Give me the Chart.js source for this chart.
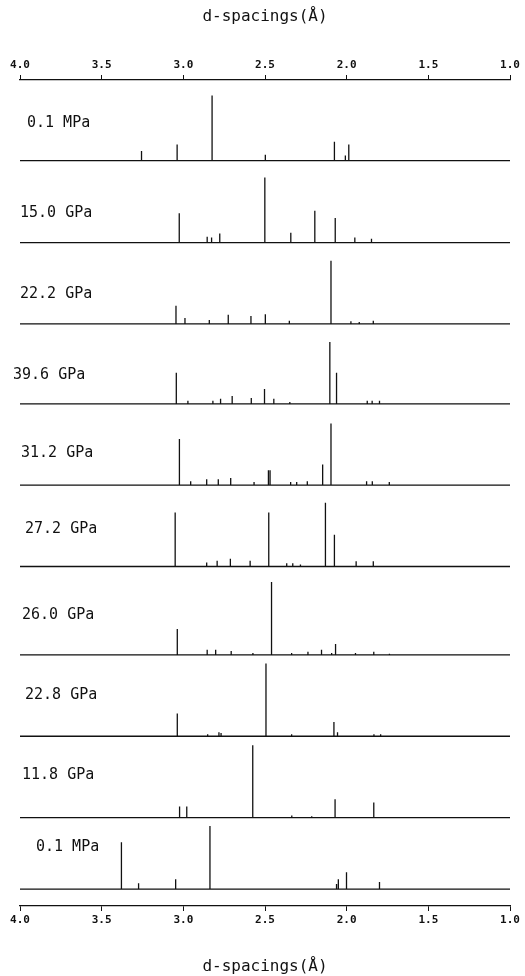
<!DOCTYPE html>
<html>
<head>
<meta charset="utf-8">
<script src="https://cdn.jsdelivr.net/npm/chart.js@4/dist/chart.umd.min.js"></script>
<style>
  html, body { margin: 0; padding: 0; background: #fff; }
  #wrap { width: 525px; height: 976px; }
</style>
</head>
<body>
<div id="wrap"><canvas id="xrd" width="525" height="976"></canvas></div>
<script>
// ── Data (d-spacing in Å, relative intensity) ──
const pressures = ['0.1 MPa', '15.0 GPa', '22.2 GPa', '39.6 GPa', '31.2 GPa',
                   '27.2 GPa', '26.0 GPa', '22.8 GPa', '11.8 GPa', '0.1 MPa'];
const xTicks = [4.0, 3.5, 3.0, 2.5, 2.0, 1.5, 1.0];

const d_01a = [3.256, 3.038, 2.824, 2.498, 2.075, 2.008, 1.987];
const I_01a = [15, 25, 100, 9, 29, 8, 25];
const d_150 = [3.025, 2.854, 2.827, 2.777, 2.501, 2.342, 2.195, 2.070, 1.950, 1.848];
const I_150 = [45, 9, 8, 14, 100, 15, 49, 38, 8, 6];
const d_222 = [3.045, 2.990, 2.841, 2.725, 2.586, 2.498, 2.351, 2.096, 1.974, 1.923, 1.837];
const I_222 = [28, 9, 6, 14, 12, 15, 5, 97, 4, 3, 5];
const d_396 = [3.043, 2.972, 2.819, 2.772, 2.701, 2.584, 2.503, 2.446, 2.348, 2.103, 2.062, 1.874, 1.844, 1.799];
const I_396 = [48, 5, 5, 8, 12, 9, 23, 8, 3, 95, 48, 5, 5, 5];
const d_312 = [3.024, 2.955, 2.857, 2.786, 2.710, 2.567, 2.479, 2.469, 2.343, 2.306, 2.241, 2.147, 2.096, 1.878, 1.843, 1.739];
const I_312 = [71, 6, 9, 9, 11, 5, 23, 23, 5, 5, 6, 32, 95, 6, 6, 5];
const d_272 = [3.050, 2.857, 2.793, 2.712, 2.591, 2.477, 2.367, 2.330, 2.283, 2.130, 2.075, 1.942, 1.837];
const I_272 = [83, 6, 9, 12, 9, 83, 5, 5, 3, 98, 49, 8, 8];
const d_260 = [3.037, 2.854, 2.802, 2.707, 2.574, 2.460, 2.337, 2.237, 2.154, 2.092, 2.068, 1.946, 1.834, 1.738];
const I_260 = [40, 8, 8, 6, 3, 112, 3, 5, 8, 3, 17, 3, 5, 2];
const d_228 = [3.037, 2.851, 2.782, 2.769, 2.494, 2.337, 2.078, 2.056, 1.833, 1.792];
const I_228 = [35, 3, 6, 5, 112, 3, 22, 6, 3, 3];
const d_118 = [3.023, 2.979, 2.575, 2.336, 2.214, 2.071, 1.834];
const I_118 = [17, 17, 111, 3, 2, 28, 23];
const d_01b = [3.379, 3.274, 3.047, 2.837, 2.062, 2.051, 2.001, 1.799];
const I_01b = [72, 9, 15, 97, 8, 15, 26, 11];

const peakD = [d_01a, d_150, d_222, d_396, d_312, d_272, d_260, d_228, d_118, d_01b];
const peakI = [I_01a, I_150, I_222, I_396, I_312, I_272, I_260, I_228, I_118, I_01b];

// ── Layout bits (per panel) ──
const yMin    = [-3, -4, -6, -10, -12, -14, -5, -7, -9, -26];
const ySpan   = 127;
const labelX  = [27, 20, 20, 13, 21, 25, 22, 25, 22, 36];
const labelUp = [38, 29, 30, 29, 32, 37, 40, 41, 42, 42];

// baseline from 4.0 to 1.0 with a stick at each peak
function stickLine(ds, is) {
  const pts = [{ x: 4.0, y: 0 }];
  ds.map((d, k) => ({ d, i: is[k] }))
    .sort((a, b) => b.d - a.d)
    .forEach(p => {
      pts.push({ x: p.d, y: 0 }, { x: p.d, y: p.i }, { x: p.d, y: 0 });
    });
  pts.push({ x: 1.0, y: 0 });
  return pts;
}

const datasets = peakD.map((ds, i) => ({
  label: pressures[i],
  data: stickLine(ds, peakI[i]),
  xAxisID: 'x',
  yAxisID: 'y' + i,
  borderColor: '#111',
  borderWidth: 1.3,
  pointRadius: 0,
  tension: 0,
  fill: false
}));

const tickFont  = { family: 'DejaVu Sans Mono', size: 11, weight: 'bold' };
const titleFont = { family: 'DejaVu Sans Mono', size: 16 };

function xAxis(position, titlePad) {
  return {
    type: 'linear',
    position,
    reverse: true,
    min: 1.0,
    max: 4.0,
    afterBuildTicks: (axis) => { axis.ticks = xTicks.map(v => ({ value: v })); },
    ticks: { color: '#111', font: tickFont, padding: 3, maxRotation: 0,
             callback: (v) => Number(v).toFixed(1) },
    grid: { drawOnChartArea: false, drawTicks: true, tickLength: 5, color: '#111' },
    border: { display: true, color: '#111', width: 1.3 },
    title: { display: true, text: 'd-spacings(Å)', color: '#111', font: titleFont, padding: titlePad }
  };
}

const scales = { x: xAxis('bottom', { top: 26.6, bottom: 0 }), x2: xAxis('top', { top: 0, bottom: 29.6 }) };
pressures.forEach((p, i) => {
  scales['y' + i] = {
    type: 'linear',
    position: 'left',
    stack: 'panels',
    stackWeight: 1,
    weight: 10 - i,
    min: yMin[i],
    max: yMin[i] + ySpan,
    display: false
  };
});

const panelLabels = {
  id: 'panelLabels',
  afterDatasetsDraw(chart) {
    const ctx = chart.ctx;
    ctx.save();
    ctx.fillStyle = '#111';
    ctx.font = '15px "DejaVu Sans Mono"';
    ctx.textBaseline = 'middle';
    ctx.textAlign = 'left';
    pressures.forEach((p, i) => {
      const y0 = chart.scales['y' + i].getPixelForValue(0);
      ctx.fillText(p, labelX[i], y0 - labelUp[i]);
    });
    ctx.restore();
  }
};

new Chart(document.getElementById('xrd'), {
  type: 'line',
  data: { datasets },
  options: {
    responsive: false,
    animation: false,
    layout: { padding: { top: 7, bottom: 0, left: 20, right: 15 } },
    plugins: { legend: { display: false }, tooltip: { enabled: false } },
    scales
  },
  plugins: [panelLabels]
});
</script>
</body>
</html>
